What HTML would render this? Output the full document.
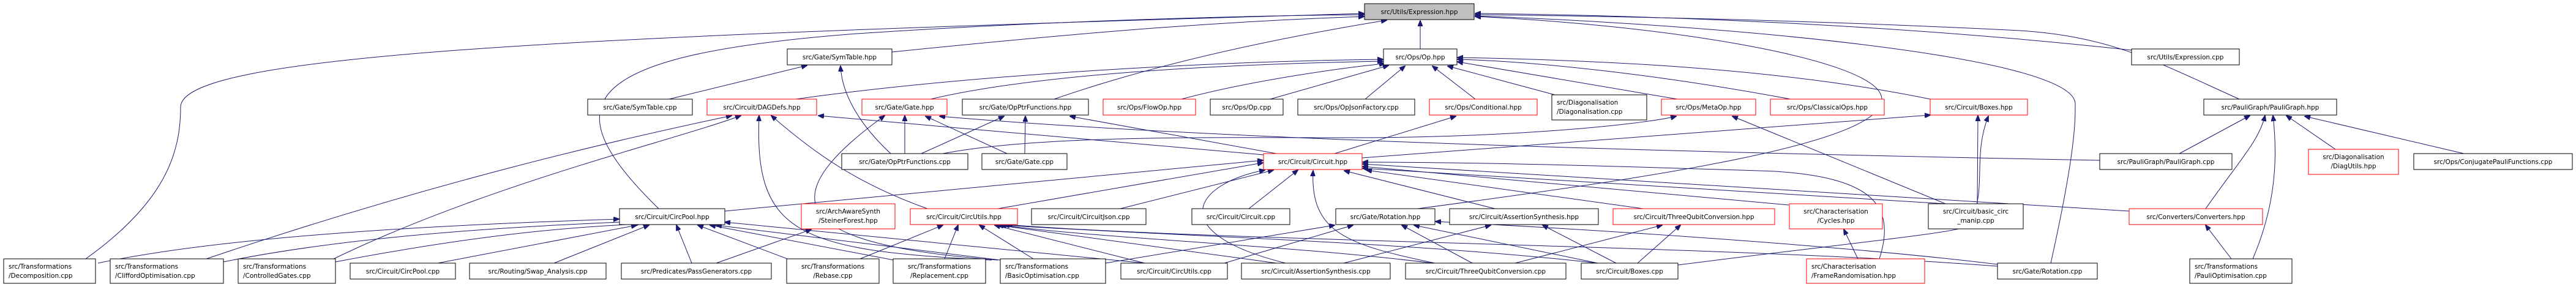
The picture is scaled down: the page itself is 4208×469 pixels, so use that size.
<!DOCTYPE html>
<html><head><meta charset="utf-8"><style>
html,body{margin:0;padding:0;background:#fff;}
svg{display:block;}
text{font-family:"DejaVu Sans","Liberation Sans",sans-serif;font-size:10.5px;fill:#000;}
.b{fill:#fff;stroke:#000;stroke-width:1;}
.r{fill:#fff;stroke:#ff0000;stroke-width:1;}
.e{fill:none;stroke:#191970;stroke-width:1;marker-end:url(#ah);}
</style></head><body>
<svg width="4208" height="469" viewBox="0 0 4208 469" xmlns="http://www.w3.org/2000/svg">
<defs><marker id="ah" markerWidth="10" markerHeight="8" refX="9" refY="4" orient="auto" markerUnits="userSpaceOnUse"><path d="M0,0 L10,4 L0,8 z" fill="#191970" stroke="#191970"/></marker></defs>

<!-- edges to Expression -->
<path class="e" d="M2320,80 L2320,34"/>
<path class="e" d="M1457,85 C1800,50 2000,35 2228,27"/>
<path class="e" d="M1722,162 C1900,100 2100,60 2265,33"/>
<path class="e" d="M140,423 C270,330 295,250 295,175 C295,90 900,60 2228,22"/>
<path class="e" d="M1076,341 C900,170 940,90 1400,55 C1700,35 2000,26 2228,24"/>
<path class="e" d="M3482,82 C3100,40 2700,25 2410,22"/>
<path class="e" d="M3658,162 C3520,100 3450,60 3300,50 C3000,35 2700,27 2410,24"/>
<path class="e" d="M3350,430 C3390,250 3390,200 3390,170 C3390,90 2800,40 2410,26"/>
<path class="e" d="M2316,341 C2700,290 3120,230 3070,150 C3030,90 2700,40 2410,27"/>

<!-- edges to Op.hpp -->
<path class="e" d="M1300,162 C1600,120 2000,100 2259,97"/>
<path class="e" d="M1520,162 C1700,120 2000,105 2259,100"/>
<path class="e" d="M1930,162 C2050,130 2200,110 2262,104"/>
<path class="e" d="M2075,162 L2268,107"/>
<path class="e" d="M2230,162 L2295,108"/>
<path class="e" d="M2410,162 L2340,108"/>
<path class="e" d="M2540,155 L2365,108"/>
<path class="e" d="M2740,162 L2381,101"/>
<path class="e" d="M2925,162 C2700,120 2500,100 2381,97"/>
<path class="e" d="M3153,162 C2900,110 2600,98 2381,94"/>

<!-- SymTable.hpp -->
<path class="e" d="M1093,162 L1318,107"/>
<path class="e" d="M1455,251 C1400,200 1375,150 1373,108"/>

<!-- DAGDefs -->
<path class="e" d="M337,423 C700,300 1000,230 1195,189"/>
<path class="e" d="M545,423 C800,300 1100,230 1210,189"/>
<path class="e" d="M1620,425 C1300,410 1232,380 1240,189"/>
<path class="e" d="M1515,341 C1400,300 1330,250 1260,189"/>
<path class="e" d="M2064,253 L1337,189"/>

<!-- Gate.hpp -->
<path class="e" d="M1478,251 L1478,189"/>
<path class="e" d="M1645,251 L1512,190"/>
<path class="e" d="M1630,425 C1300,400 1250,330 1445,189"/>
<path class="e" d="M3430,262 C2800,250 2000,230 1535,190"/>

<!-- OpPtrFunctions.hpp -->
<path class="e" d="M1505,251 L1640,190"/>
<path class="e" d="M1674,251 L1675,190"/>
<path class="e" d="M2085,251 L1748,190"/>

<!-- MetaOp -->
<path class="e" d="M1540,251 C1700,220 2000,225 2200,225 C2500,225 2700,200 2738,190"/>
<path class="e" d="M3178,333 L2830,190"/>
<!-- Conditional -->
<path class="e" d="M2180,251 L2378,190"/>
<!-- Boxes.hpp -->
<path class="e" d="M2225,258 L3153,188"/>
<path class="e" d="M3230,333 L3231,189"/>
<path class="e" d="M2741,433 C3000,400 3200,380 3212,370 C3250,320 3220,260 3248,190"/>

<!-- Circuit.hpp -->
<path class="e" d="M1184,345 L2063,262"/>
<path class="e" d="M1630,341 L2063,266"/>
<path class="e" d="M1830,341 L2080,278"/>
<path class="e" d="M2040,341 L2120,278"/>
<path class="e" d="M2442,341 L2196,279"/>
<path class="e" d="M2684,341 L2232,278"/>
<path class="e" d="M2922,335 L2226,272"/>
<path class="e" d="M3478,345 L2226,268"/>
<path class="e" d="M3178,333 L2226,275"/>
<path class="e" d="M3070,423 C3100,330 3050,290 2900,280 C2600,270 2400,265 2226,265"/>
<path class="e" d="M2344,430 C2200,400 2140,380 2145,279"/>
<path class="e" d="M2100,430 C1900,380 1950,300 2066,278"/>

<!-- PauliGraph -->
<path class="e" d="M3560,251 L3675,189"/>
<path class="e" d="M3815,244 L3735,189"/>
<path class="e" d="M4025,251 L3765,190"/>
<path class="e" d="M3603,341 C3660,260 3690,230 3700,189"/>
<path class="e" d="M3680,423 C3720,330 3720,250 3713,189"/>
<path class="e" d="M3645,423 L3603,368"/>

<!-- CircPool.hpp -->
<path class="e" d="M160,430 C400,380 800,365 1011,358"/>
<path class="e" d="M365,428 C600,380 900,368 1035,362"/>
<path class="e" d="M548,428 C800,380 950,370 1045,366"/>
<path class="e" d="M715,430 L1040,368"/>
<path class="e" d="M905,430 L1060,368"/>
<path class="e" d="M1130,430 L1105,368"/>
<path class="e" d="M1305,430 L1140,368"/>
<path class="e" d="M1460,425 L1160,368"/>
<path class="e" d="M1634,425 L1170,368"/>
<path class="e" d="M1870,430 L1184,363"/>
<path class="e" d="M1170,430 L1325,375"/>

<!-- CircUtils.hpp -->
<path class="e" d="M1405,423 L1540,368"/>
<path class="e" d="M1543,423 L1565,368"/>
<path class="e" d="M1688,423 L1600,368"/>
<path class="e" d="M1870,430 L1625,368"/>
<path class="e" d="M2085,430 L1630,368"/>
<path class="e" d="M2340,430 C2100,400 1800,390 1635,368"/>
<path class="e" d="M2610,430 C2300,395 1900,385 1640,368"/>
<path class="e" d="M3263,435 C2800,400 2000,395 1645,367"/>

<!-- Rotation.hpp -->
<path class="e" d="M1806,430 L2180,368"/>
<path class="e" d="M2000,430 L2210,368"/>
<path class="e" d="M2405,430 L2290,368"/>
<path class="e" d="M2610,430 L2310,368"/>
<path class="e" d="M3263,432 C3000,400 2600,375 2345,362"/>
<!-- AssertionSynthesis.hpp -->
<path class="e" d="M2195,430 L2435,368"/>
<path class="e" d="M2640,430 L2520,368"/>
<!-- ThreeQubit.hpp -->
<path class="e" d="M2475,430 L2715,368"/>
<path class="e" d="M2675,430 L2745,368"/>
<!-- Cycles -->
<path class="e" d="M3035,423 L3012,375"/>

<!-- NODES -->
<rect x="2229" y="6" width="179" height="26" fill="#bfbfbf" stroke="#000"/><text x="2318.5" y="23" text-anchor="middle">src/Utils/Expression.hpp</text>

<rect class="b" x="1286" y="80" width="171" height="26"/><text x="1371.5" y="97" text-anchor="middle">src/Gate/SymTable.hpp</text>
<rect class="b" x="2260" y="80" width="120" height="26"/><text x="2320" y="97" text-anchor="middle">src/Ops/Op.hpp</text>
<rect class="b" x="3482" y="80" width="176" height="26"/><text x="3570" y="97" text-anchor="middle">src/Utils/Expression.cpp</text>

<rect class="b" x="960" y="162" width="171" height="26"/><text x="1045.5" y="179" text-anchor="middle">src/Gate/SymTable.cpp</text>
<rect class="r" x="1155" y="162" width="179" height="26"/><text x="1244.5" y="179" text-anchor="middle">src/Circuit/DAGDefs.hpp</text>
<rect class="r" x="1408" y="162" width="139" height="26"/><text x="1477.5" y="179" text-anchor="middle">src/Gate/Gate.hpp</text>
<rect class="b" x="1572" y="162" width="206" height="26"/><text x="1675" y="179" text-anchor="middle">src/Gate/OpPtrFunctions.hpp</text>
<rect class="r" x="1802" y="162" width="151" height="26"/><text x="1877.5" y="179" text-anchor="middle">src/Ops/FlowOp.hpp</text>
<rect class="b" x="1977" y="162" width="119" height="26"/><text x="2036.5" y="179" text-anchor="middle">src/Ops/Op.cpp</text>
<rect class="b" x="2120" y="162" width="191" height="26"/><text x="2215.5" y="179" text-anchor="middle">src/Ops/OpJsonFactory.cpp</text>
<rect class="r" x="2335" y="162" width="176" height="26"/><text x="2423" y="179" text-anchor="middle">src/Ops/Conditional.hpp</text>
<rect class="b" x="2535" y="155" width="155" height="41"/><text x="2543" y="171">src/Diagonalisation</text><text x="2543" y="186">/Diagonalisation.cpp</text>
<rect class="r" x="2714" y="162" width="154" height="26"/><text x="2791" y="179" text-anchor="middle">src/Ops/MetaOp.hpp</text>
<rect class="r" x="2892" y="162" width="186" height="26"/><text x="2985" y="179" text-anchor="middle">src/Ops/ClassicalOps.hpp</text>
<rect class="r" x="3153" y="162" width="159" height="26"/><text x="3232.5" y="179" text-anchor="middle">src/Circuit/Boxes.hpp</text>
<rect class="b" x="3600" y="162" width="217" height="26"/><text x="3708.5" y="179" text-anchor="middle">src/PauliGraph/PauliGraph.hpp</text>

<rect class="b" x="1375" y="251" width="206" height="26"/><text x="1478" y="268" text-anchor="middle">src/Gate/OpPtrFunctions.cpp</text>
<rect class="b" x="1604" y="251" width="139" height="26"/><text x="1673.5" y="268" text-anchor="middle">src/Gate/Gate.cpp</text>
<rect class="r" x="2064" y="251" width="161" height="26"/><text x="2144.5" y="268" text-anchor="middle">src/Circuit/Circuit.hpp</text>
<rect class="b" x="3430" y="251" width="216" height="26"/><text x="3538" y="268" text-anchor="middle">src/PauliGraph/PauliGraph.cpp</text>
<rect class="r" x="3771" y="244" width="147" height="41"/><text x="3844.5" y="260" text-anchor="middle">src/Diagonalisation</text><text x="3844.5" y="275" text-anchor="middle">/DiagUtils.hpp</text>
<rect class="b" x="3943" y="251" width="259" height="26"/><text x="4072.5" y="268" text-anchor="middle">src/Ops/ConjugatePauliFunctions.cpp</text>

<rect class="b" x="1012" y="341" width="172" height="26"/><text x="1098" y="358" text-anchor="middle">src/Circuit/CircPool.hpp</text>
<rect class="r" x="1309" y="333" width="153" height="41"/><text x="1385.5" y="349" text-anchor="middle">src/ArchAwareSynth</text><text x="1385.5" y="364" text-anchor="middle">/SteinerForest.hpp</text>
<rect class="r" x="1487" y="341" width="175" height="26"/><text x="1574.5" y="358" text-anchor="middle">src/Circuit/CircUtils.hpp</text>
<rect class="b" x="1685" y="341" width="187" height="26"/><text x="1778.5" y="358" text-anchor="middle">src/Circuit/CircuitJson.cpp</text>
<rect class="b" x="1947" y="341" width="160" height="26"/><text x="2027" y="358" text-anchor="middle">src/Circuit/Circuit.cpp</text>
<rect class="b" x="2182" y="341" width="162" height="26"/><text x="2263" y="358" text-anchor="middle">src/Gate/Rotation.hpp</text>
<rect class="b" x="2368" y="341" width="243" height="26"/><text x="2489.5" y="358" text-anchor="middle">src/Circuit/AssertionSynthesis.hpp</text>
<rect class="r" x="2635" y="341" width="264" height="26"/><text x="2767" y="358" text-anchor="middle">src/Circuit/ThreeQubitConversion.hpp</text>
<rect class="r" x="2923" y="333" width="152" height="41"/><text x="2999" y="349" text-anchor="middle">src/Characterisation</text><text x="2999" y="364" text-anchor="middle">/Cycles.hpp</text>
<rect class="b" x="3150" y="333" width="155" height="41"/><text x="3227.5" y="349" text-anchor="middle">src/Circuit/basic_circ</text><text x="3227.5" y="364" text-anchor="middle">_manip.cpp</text>
<rect class="r" x="3478" y="341" width="218" height="26"/><text x="3587" y="358" text-anchor="middle">src/Converters/Converters.hpp</text>

<rect class="b" x="6" y="423" width="150" height="40"/><text x="14" y="439">src/Transformations</text><text x="14" y="454">/Decomposition.cpp</text>
<rect class="b" x="180" y="423" width="185" height="40"/><text x="188" y="439">src/Transformations</text><text x="188" y="454">/CliffordOptimisation.cpp</text>
<rect class="b" x="389" y="423" width="159" height="40"/><text x="397" y="439">src/Transformations</text><text x="397" y="454">/ControlledGates.cpp</text>
<rect class="b" x="572" y="430" width="172" height="26"/><text x="658" y="447" text-anchor="middle">src/Circuit/CircPool.cpp</text>
<rect class="b" x="767" y="430" width="223" height="26"/><text x="878.5" y="447" text-anchor="middle">src/Routing/Swap_Analysis.cpp</text>
<rect class="b" x="1015" y="430" width="245" height="26"/><text x="1137.5" y="447" text-anchor="middle">src/Predicates/PassGenerators.cpp</text>
<rect class="b" x="1285" y="423" width="151" height="40"/><text x="1360.5" y="439" text-anchor="middle">src/Transformations</text><text x="1360.5" y="454" text-anchor="middle">/Rebase.cpp</text>
<rect class="b" x="1459" y="423" width="151" height="40"/><text x="1534.5" y="439" text-anchor="middle">src/Transformations</text><text x="1534.5" y="454" text-anchor="middle">/Replacement.cpp</text>
<rect class="b" x="1634" y="423" width="172" height="40"/><text x="1642" y="439">src/Transformations</text><text x="1642" y="454">/BasicOptimisation.cpp</text>
<rect class="b" x="1831" y="430" width="174" height="26"/><text x="1918" y="447" text-anchor="middle">src/Circuit/CircUtils.cpp</text>
<rect class="b" x="2028" y="430" width="243" height="26"/><text x="2149.5" y="447" text-anchor="middle">src/Circuit/AssertionSynthesis.cpp</text>
<rect class="b" x="2296" y="430" width="262" height="26"/><text x="2427" y="447" text-anchor="middle">src/Circuit/ThreeQubitConversion.cpp</text>
<rect class="b" x="2583" y="430" width="158" height="26"/><text x="2662" y="447" text-anchor="middle">src/Circuit/Boxes.cpp</text>
<rect class="r" x="2951" y="423" width="193" height="40"/><text x="2959" y="439">src/Characterisation</text><text x="2959" y="454">/FrameRandomisation.hpp</text>
<rect class="b" x="3263" y="430" width="163" height="26"/><text x="3344.5" y="447" text-anchor="middle">src/Gate/Rotation.cpp</text>
<rect class="b" x="3577" y="423" width="167" height="40"/><text x="3585" y="439">src/Transformations</text><text x="3585" y="454">/PauliOptimisation.cpp</text>
</svg>
</body></html>
